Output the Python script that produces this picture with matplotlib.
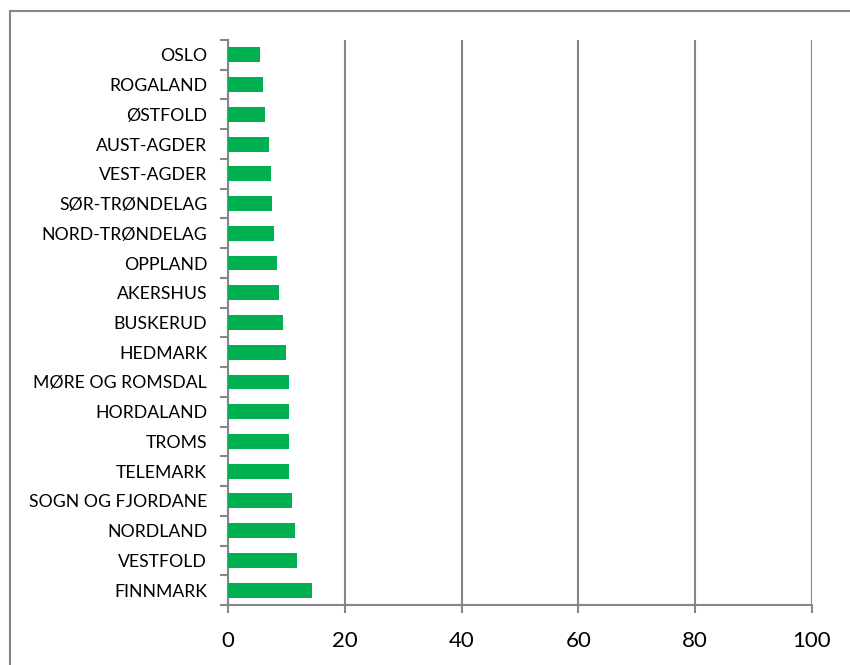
import matplotlib
matplotlib.use("Agg")
import matplotlib.pyplot as plt
from matplotlib.patches import Rectangle
import numpy as np

counties = ["OSLO", "ROGALAND", "ØSTFOLD", "AUST-AGDER", "VEST-AGDER",
            "SØR-TRØNDELAG", "NORD-TRØNDELAG", "OPPLAND", "AKERSHUS",
            "BUSKERUD", "HEDMARK", "MØRE OG ROMSDAL", "HORDALAND", "TROMS",
            "TELEMARK", "SOGN OG FJORDANE", "NORDLAND", "VESTFOLD", "FINNMARK"]
values = [5.5, 6.0, 6.3, 7.0, 7.4, 7.5, 7.8, 8.4, 8.8, 9.4,
          10.0, 10.4, 10.4, 10.5, 10.5, 11.0, 11.5, 11.9, 14.4]
x_ticks = [0, 20, 40, 60, 80, 100]

plt.rcParams['font.family'] = ['Lato', 'DejaVu Sans']

fig = plt.figure(figsize=(8.5, 6.65), dpi=100)
W, H = 850, 665
ax = fig.add_axes([228 / W, 1 - 605 / H, (812 - 228) / W, (605 - 40) / H])

grey = "#868686"
ypos = np.arange(len(counties))
ax.barh(ypos, values, height=0.5, color="#00B050", zorder=3)

ax.set_xlim(0, 100)
ax.set_ylim(len(counties) - 0.5, -0.5)
ax.set_xticks(x_ticks)
ax.set_xticklabels([str(t) for t in x_ticks], fontsize=16)
ax.set_yticks(ypos)
ax.set_yticklabels(counties, fontsize=12.7)
ax.set_yticks(np.arange(-0.5, len(counties)), minor=True)
ax.tick_params(axis="y", which="major", length=0, pad=15)
ax.tick_params(axis="y", which="minor", length=6, width=1.5, color=grey, direction="out")
ax.tick_params(axis="x", which="major", length=6, width=1.5, color=grey, direction="out", pad=13)

ax.grid(axis="x", color=grey, linewidth=1.5, zorder=0)
for side in ("top", "right"):
    ax.spines[side].set_visible(False)
for side in ("left", "bottom"):
    ax.spines[side].set_color(grey)
    ax.spines[side].set_linewidth(1.5)

# Chart area frame
fig.patches.append(Rectangle((10 / W, -0.1), 1.0, 1 - 11 / H + 0.1,
                             transform=fig.transFigure, fill=False,
                             edgecolor=grey, linewidth=1.5))

fig.savefig("out.png", dpi=100)
